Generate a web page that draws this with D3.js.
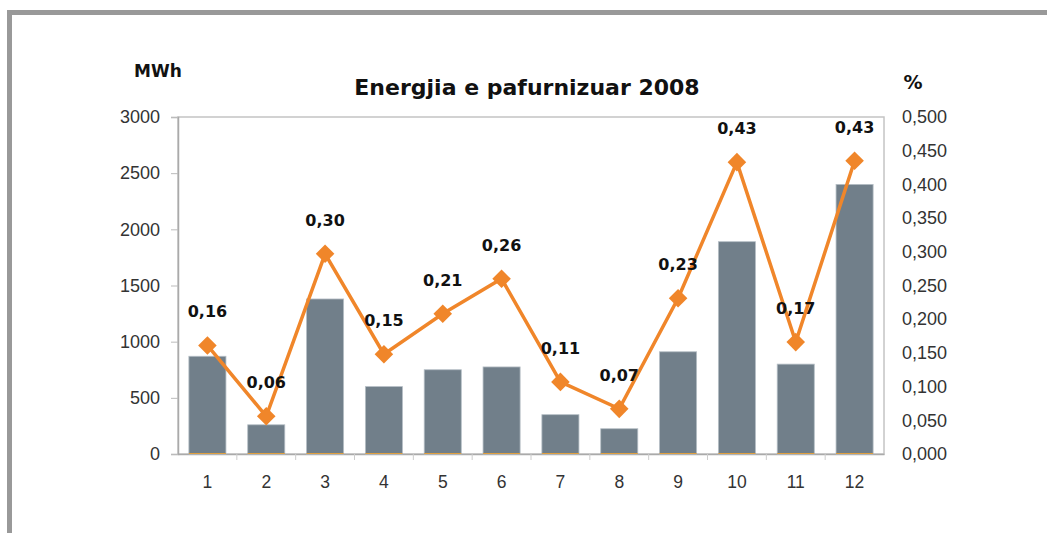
<!DOCTYPE html>
<html>
<head>
<meta charset="utf-8">
<script src="https://cdn.jsdelivr.net/npm/d3@7"></script>
<style>
  body { margin: 0; background: #fff; }
  svg { display: block; font-family: "DejaVu Sans", Arial, sans-serif; }
</style>
</head>
<body>
<svg id="chart" width="1047" height="533"></svg>
<script>
// muajt, energjia (MWh) dhe perqindja
const months = ["1", "2", "3", "4", "5", "6", "7", "8", "9", "10", "11", "12"];
const energy = [870, 260, 1380, 600, 750, 775, 350, 225, 910, 1890, 800, 2400];
const percent = [0.161, 0.056, 0.297, 0.148, 0.208, 0.260, 0.107, 0.067, 0.231, 0.433, 0.166, 0.435];
const leftTicks = [0, 500, 1000, 1500, 2000, 2500, 3000];
const rightTicks = [0, 0.05, 0.1, 0.15, 0.2, 0.25, 0.3, 0.35, 0.4, 0.45, 0.5];

const svg = d3.select("#chart");
const plot = { left: 178, right: 884, top: 117, bottom: 454 };
const comma = v => v.replace(".", ",");

// korniza e jashtme
svg.append("rect").attr("x", 7).attr("y", 10).attr("width", 1047).attr("height", 5).attr("fill", "#999");
svg.append("rect").attr("x", 7).attr("y", 10).attr("width", 5).attr("height", 533).attr("fill", "#999");

const x = d3.scaleBand().domain(months).range([plot.left, plot.right]).paddingInner(0.37).paddingOuter(0.185);
const xStep = d3.scaleBand().domain(months).range([plot.left, plot.right]);
const yL = d3.scaleLinear().domain([0, 3000]).range([plot.bottom, plot.top]);
const yR = d3.scaleLinear().domain([0, 0.5]).range([plot.bottom, plot.top]);

// korniza e zones
svg.append("rect")
  .attr("x", plot.left).attr("y", plot.top)
  .attr("width", plot.right - plot.left).attr("height", plot.bottom - plot.top)
  .attr("fill", "none").attr("stroke", "#c4c4c4").attr("stroke-width", 1.5);

// boshti majtas
const gL = svg.append("g").attr("transform", `translate(${plot.left},0)`)
  .call(d3.axisLeft(yL).tickValues(leftTicks).tickSize(7).tickPadding(11).tickFormat(d3.format("d")));
gL.select(".domain").attr("stroke", "#aaa").attr("stroke-width", 1.5);
gL.selectAll(".tick line").attr("stroke", "#bbb");
gL.selectAll("text").attr("font-size", 18).attr("fill", "#333");

// boshti djathtas
const gR = svg.append("g").attr("transform", `translate(${plot.right},0)`)
  .call(d3.axisRight(yR).tickValues(rightTicks).tickSize(0).tickPadding(18).tickFormat(d => comma(d3.format(".3f")(d))));
gR.select(".domain").remove();
gR.selectAll("text").attr("font-size", 18).attr("fill", "#333");

// boshti poshte
const gB = svg.append("g").attr("transform", `translate(0,${plot.bottom})`)
  .call(d3.axisBottom(xStep).tickSize(0).tickPadding(22));
gB.select(".domain").attr("stroke", "#aaa").attr("stroke-width", 1.5);
gB.selectAll("text").attr("font-size", 17.5).attr("fill", "#333");
svg.append("g").selectAll("line")
  .data(months.slice(1))
  .join("line")
  .attr("x1", d => xStep(d)).attr("x2", d => xStep(d))
  .attr("y1", plot.bottom).attr("y2", plot.bottom + 6)
  .attr("stroke", "#ccc");

// shtyllat
svg.append("g").selectAll("rect")
  .data(energy)
  .join("rect")
  .attr("x", (d, i) => x(months[i]))
  .attr("y", d => yL(d))
  .attr("width", x.bandwidth())
  .attr("height", d => plot.bottom - yL(d))
  .attr("fill", "#717f8a")
  .attr("stroke", "#b5bec5")
  .attr("stroke-width", 0.8);
svg.append("g").selectAll("line")
  .data(energy)
  .join("line")
  .attr("x1", (d, i) => x(months[i])).attr("x2", (d, i) => x(months[i]) + x.bandwidth())
  .attr("y1", plot.bottom - 0.5).attr("y2", plot.bottom - 0.5)
  .attr("stroke", "#e0a040").attr("stroke-width", 1);

// vija e perqindjes
const cx = i => xStep(months[i]) + xStep.bandwidth() / 2;
const line = d3.line().x((d, i) => cx(i)).y(d => yR(d));
svg.append("path")
  .datum(percent)
  .attr("d", line)
  .attr("fill", "none")
  .attr("stroke", "#f0862a")
  .attr("stroke-width", 3.5);

svg.append("g").selectAll("path")
  .data(percent)
  .join("path")
  .attr("d", d3.symbol().type(d3.symbolDiamond2).size(220))
  .attr("transform", (d, i) => `translate(${cx(i)},${yR(d)})`)
  .attr("fill", "#f0862a");

svg.append("g").selectAll("text")
  .data(percent)
  .join("text")
  .attr("x", (d, i) => cx(i))
  .attr("y", d => yR(d) - 28)
  .attr("text-anchor", "middle")
  .attr("font-size", 16)
  .attr("font-weight", "bold")
  .attr("fill", "#111")
  .text(d => comma(d.toFixed(2)));

// titujt
svg.append("text").attr("x", 527).attr("y", 95).attr("text-anchor", "middle")
  .attr("font-size", 22).attr("font-weight", "bold").attr("fill", "#111")
  .text("Energjia e pafurnizuar 2008");
svg.append("text").attr("x", 158).attr("y", 77).attr("text-anchor", "middle")
  .attr("font-size", 17).attr("font-weight", "bold").attr("fill", "#111")
  .text("MWh");
svg.append("text").attr("x", 913).attr("y", 89).attr("text-anchor", "middle")
  .attr("font-size", 19).attr("font-weight", "bold").attr("fill", "#111")
  .text("%");
</script>
</body>
</html>
